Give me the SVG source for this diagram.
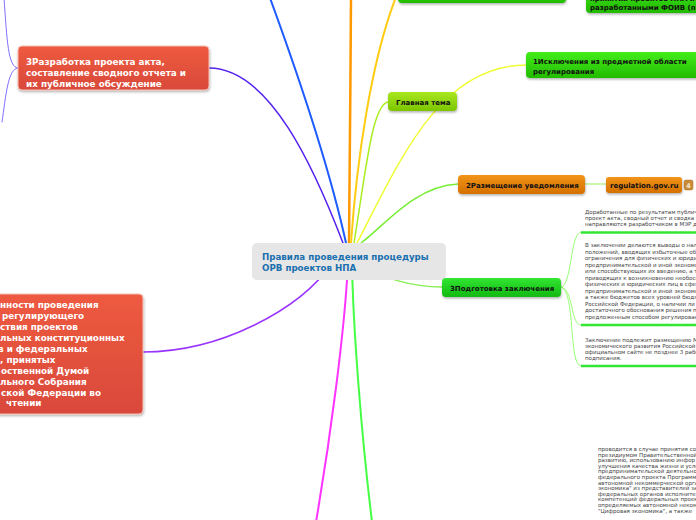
<svg xmlns="http://www.w3.org/2000/svg" width="696" height="520" viewBox="0 0 696 520">
<defs>
<linearGradient id="gRed" x1="0" y1="0" x2="0" y2="1"><stop offset="0" stop-color="#ee5a40"/><stop offset="1" stop-color="#d9493a"/></linearGradient>
<linearGradient id="gGreen" x1="0" y1="0" x2="0" y2="1"><stop offset="0" stop-color="#44ee1a"/><stop offset="1" stop-color="#22bb00"/></linearGradient>
<linearGradient id="gGreen2" x1="0" y1="0" x2="0" y2="1"><stop offset="0" stop-color="#33e633"/><stop offset="1" stop-color="#11b811"/></linearGradient>
<linearGradient id="gLime" x1="0" y1="0" x2="0" y2="1"><stop offset="0" stop-color="#a8e820"/><stop offset="1" stop-color="#7cc400"/></linearGradient>
<linearGradient id="gOrange" x1="0" y1="0" x2="0" y2="1"><stop offset="0" stop-color="#f29418"/><stop offset="1" stop-color="#d47000"/></linearGradient>
<filter id="sh" x="-10%" y="-20%" width="120%" height="150%"><feDropShadow dx="0.5" dy="1.5" stdDeviation="1" flood-color="#000" flood-opacity="0.3"/></filter>
</defs>
<style>
text{font-family:"DejaVu Sans","Verdana",sans-serif}
.nt{font-weight:bold;font-size:7px;fill:#111}
.rt{font-weight:bold;font-size:8.8px;fill:#fff}
.ct{font-weight:bold;font-size:8.7px;fill:#1a6faf}
.st{font-size:5.5px;fill:#444}
.c{fill:none;stroke-linecap:round}
.ul{stroke:#33e633;stroke-width:2.5}
</style>
<rect width="696" height="520" fill="#fff"/>
<g id="connectors">
<path class="c" d="M18,68 C8,68 7,40 4,-2" stroke="#8070ff" stroke-width="1"/>
<path class="c" d="M18,68 C8,68 6,95 2,122" stroke="#8070ff" stroke-width="1"/>
<path class="c" d="M343,243 C315,170 270,68 209,68" stroke="#5522ee" stroke-width="1.5"/>
<path class="c" d="M346,243 C330,170 300,80 270,-2" stroke="#1e5cff" stroke-width="2"/>
<path class="c" d="M349,243 C349,160 351,80 351,-2" stroke="#ff9900" stroke-width="2.5"/>
<path class="c" d="M351,243 C356,170 370,60 398,-8" stroke="#ffcc11" stroke-width="2"/>
<path class="c" d="M354,243 C366,170 372,105 388,102" stroke="#aaee22" stroke-width="1.5"/>
<path class="c" d="M357,243 C400,160 440,65 526,65" stroke="#eeff33" stroke-width="1.5"/>
<path class="c" d="M361,243 C385,225 415,186 458,184" stroke="#77ee33" stroke-width="1.5"/>
<path class="c" d="M585,184 L606,184" stroke="#99ee55" stroke-width="1"/>
<path class="c" d="M360,265 C385,278 410,287 442,287" stroke="#88ee55" stroke-width="1.5"/>
<path class="c" d="M561,287 C572,287 570,232 581,232" stroke="#99ff77" stroke-width="1"/>
<path class="c" d="M561,287 C574,289 570,325 581,325" stroke="#99ff77" stroke-width="1"/>
<path class="c" d="M561,287 C576,290 568,366 581,366" stroke="#99ff77" stroke-width="1"/>
<path class="c" d="M348,262 C345,330 330,440 316,522" stroke="#ff33ff" stroke-width="2"/>
<path class="c" d="M352,262 C353,330 362,440 372,522" stroke="#44ff44" stroke-width="2"/>
<path class="c" d="M333,262 C300,310 220,352 143,352" stroke="#9933ff" stroke-width="1.5"/>
<line class="ul" x1="581" y1="232.5" x2="700" y2="232.5"/>
<line class="ul" x1="581" y1="325" x2="700" y2="325"/>
<line class="ul" x1="581" y1="366" x2="700" y2="366"/>
</g>
<g id="center">
<rect x="252" y="243" width="194" height="37" rx="5" fill="#e6e6e6"/>
<text class="ct" x="262" y="259.5">Правила проведения процедуры</text>
<text class="ct" x="262" y="271">ОРВ проектов НПА</text>
</g>
<g id="node-razrabotka">
<rect x="18" y="46" width="191" height="44" rx="4" fill="url(#gRed)" stroke="#f4c0b4" stroke-width="1" filter="url(#sh)"/>
<text class="rt" x="26" y="64.5">3Разработка проекта акта,</text>
<text class="rt" x="26" y="75.5">составление сводного отчета и</text>
<text class="rt" x="26" y="86.5">их публичное обсуждение</text>
</g>
<g id="node-osobennosti">
<rect x="-10" y="294" width="153" height="120" rx="4" fill="url(#gRed)" stroke="#f4c0b4" stroke-width="1" filter="url(#sh)"/>
<text class="rt" x="0" y="308">нности проведения</text>
<text class="rt" x="2" y="319">регулирующего</text>
<text class="rt" x="0" y="330">ствия проектов</text>
<text class="rt" x="0" y="341">льных конституционных</text>
<text class="rt" x="-2" y="352">в и федеральных</text>
<text class="rt" x="0" y="363">, принятых</text>
<text class="rt" x="1" y="374">оственной Думой</text>
<text class="rt" x="0" y="385">льного Собрания</text>
<text class="rt" x="1" y="396">ской Федерации во</text>
<text class="rt" x="6" y="406">чтении</text>
</g>
<g id="node-top1">
<rect x="398" y="-20" width="168" height="23" rx="4" fill="url(#gGreen)" filter="url(#sh)"/>
</g>
<g id="node-top2">
<rect x="586" y="-20" width="120" height="33" rx="4" fill="url(#gGreen)" filter="url(#sh)"/>
<text class="nt" x="590" y="1">принятии проектов НПА и</text>
<text class="nt" x="590" y="9.5">разработанными ФОИВ (п</text>
</g>
<g id="node-isklyucheniya">
<rect x="526" y="52" width="180" height="26" rx="4" fill="url(#gGreen)" filter="url(#sh)"/>
<text class="nt" x="533" y="64">1Исключения из предметной области</text>
<text class="nt" x="533" y="73.5">регулирования</text>
</g>
<g id="node-glavnaya">
<rect x="388" y="92" width="69" height="19" rx="4" fill="url(#gLime)" filter="url(#sh)"/>
<text class="nt" x="396" y="104.5">Главная тема</text>
</g>
<g id="node-razmeshchenie">
<rect x="458" y="175" width="127" height="19" rx="4" fill="url(#gOrange)" filter="url(#sh)"/>
<text class="nt" x="466" y="187.5">2Размещение уведомления</text>
</g>
<g id="node-regulation">
<rect x="606" y="177" width="76" height="16" rx="3" fill="url(#gOrange)" filter="url(#sh)"/>
<text class="nt" x="610" y="188">regulation.gov.ru</text>
<rect x="684" y="180" width="9" height="10" rx="2" fill="#c98a3a" stroke="#a86a20" stroke-width="0.5"/>
<text x="688.5" y="187.5" font-size="6.5" font-weight="bold" fill="#f5e6c8" text-anchor="middle">4</text>
</g>
<g id="node-podgotovka">
<rect x="442" y="278" width="119" height="19" rx="4" fill="url(#gGreen2)" filter="url(#sh)"/>
<text class="nt" x="450" y="290.5">3Подготовка заключения</text>
</g>
<g id="note-1">
<text class="st" x="585" y="213.5">Доработанные по результатам публичн</text>
<text class="st" x="585" y="219.5">проект акта, сводный отчет и сводка п</text>
<text class="st" x="585" y="225.5">направляются разработчиком в МЭР д</text>
</g>
<g id="note-2">
<text class="st" x="585" y="247">В заключении делаются выводы о нал</text>
<text class="st" x="585" y="253.5">положений, вводящих избыточные об</text>
<text class="st" x="585" y="260">ограничения для физических и юриди</text>
<text class="st" x="585" y="266.5">предпринимательской и иной экономи</text>
<text class="st" x="585" y="273">или способствующих их введению, а т</text>
<text class="st" x="585" y="279.5">приводящих к возникновению необосн</text>
<text class="st" x="585" y="286">физических и юридических лиц в сфе</text>
<text class="st" x="585" y="292.5">предпринимательской и иной экономи</text>
<text class="st" x="585" y="299">а также бюджетов всех уровней бюдж</text>
<text class="st" x="585" y="305.5">Российской Федерации, о наличии ли</text>
<text class="st" x="585" y="312">достаточного обоснования решения пр</text>
<text class="st" x="585" y="318.5">предложенным способом регулирован</text>
</g>
<g id="note-3">
<text class="st" x="585" y="342">Заключение подлежит размещению М</text>
<text class="st" x="585" y="348">экономического развития Российской</text>
<text class="st" x="585" y="354">официальном сайте не позднее 3 рабо</text>
<text class="st" x="585" y="360">подписания.</text>
</g>
<g id="note-4">
<text class="st" x="598" y="451">проводится в случае принятия сов</text>
<text class="st" x="598" y="456.6">президиумом Правительственной</text>
<text class="st" x="598" y="462.2">развитию, использованию инфор</text>
<text class="st" x="598" y="467.8">улучшения качества жизни и усло</text>
<text class="st" x="598" y="473.4">предпринимательской деятельнос</text>
<text class="st" x="598" y="479">федерального проекта Программ</text>
<text class="st" x="598" y="484.6">автономной некоммерческой орга</text>
<text class="st" x="598" y="490.2">экономика" из представителей за</text>
<text class="st" x="598" y="495.8">федеральных органов исполнител</text>
<text class="st" x="598" y="501.4">компетенций федеральных проект</text>
<text class="st" x="598" y="507">определяемых автономной неком</text>
<text class="st" x="598" y="512.6">"Цифровая экономика", а также</text>
</g>
</svg>
